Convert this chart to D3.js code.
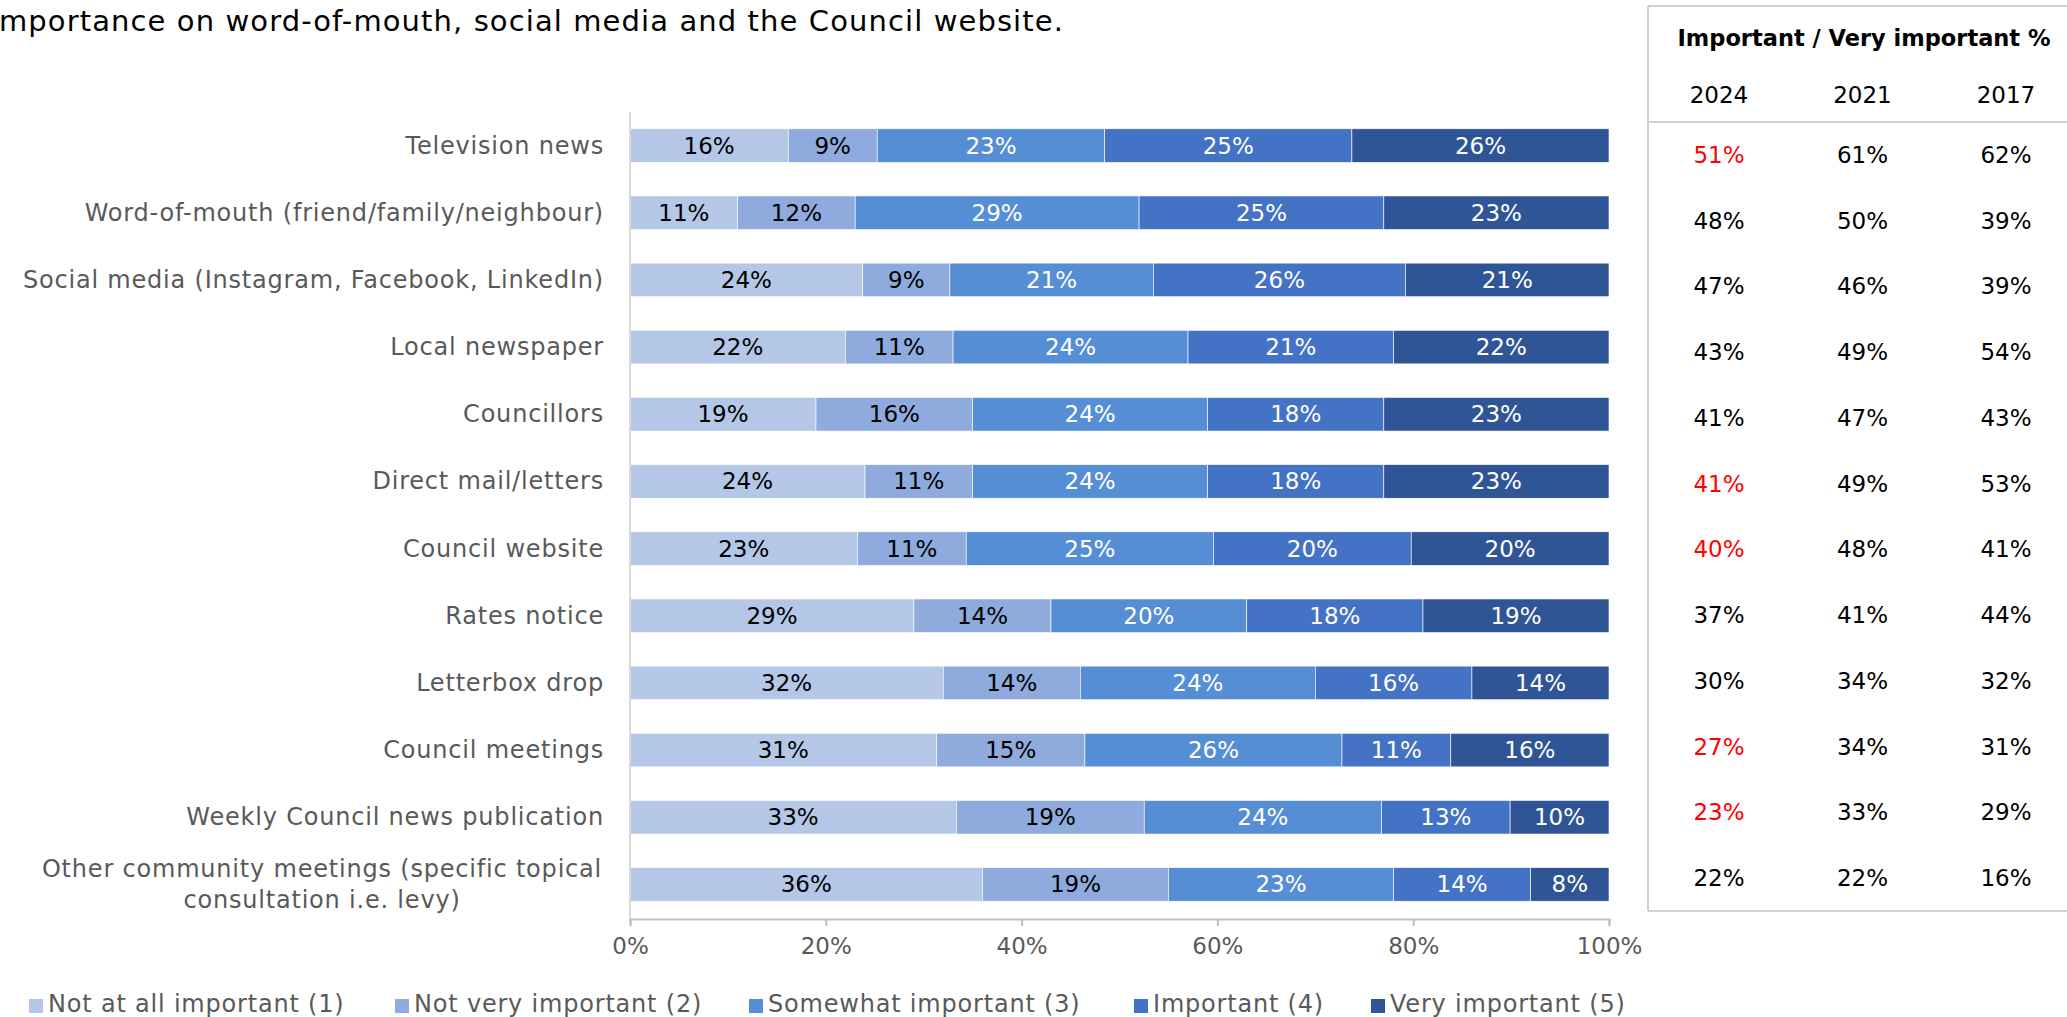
<!DOCTYPE html>
<html>
<head>
<meta charset="utf-8">
<script src="https://cdn.jsdelivr.net/npm/d3@7"></script>
<style>
  html, body { margin: 0; padding: 0; background: #fff; overflow: hidden; }
  svg { display: block; }
  text { font-family: "Century Gothic", "DejaVu Sans", sans-serif; }
</style>
</head>
<body>
<svg id="chart" width="2067" height="1017"></svg>
<script>
// Communication channels, top to bottom
const categories = [
  "Television news",
  "Word-of-mouth (friend/family/neighbour)",
  "Social media (Instagram, Facebook, LinkedIn)",
  "Local newspaper",
  "Councillors",
  "Direct mail/letters",
  "Council website",
  "Rates notice",
  "Letterbox drop",
  "Council meetings",
  "Weekly Council news publication",
  "Other community meetings (specific topical consultation i.e. levy)"
];

const seriesNames = [
  "Not at all important (1)",
  "Not very important (2)",
  "Somewhat important (3)",
  "Important (4)",
  "Very important (5)"
];

// Share of respondents per rating, one array per rating level
const notAtAll   = [16, 11, 24, 22, 19, 24, 23, 29, 32, 31, 33, 36];
const notVery    = [ 9, 12,  9, 11, 16, 11, 11, 14, 14, 15, 19, 19];
const somewhat   = [23, 29, 21, 24, 24, 24, 25, 20, 24, 26, 24, 23];
const important  = [25, 25, 26, 21, 18, 18, 20, 18, 16, 11, 13, 14];
const veryImport = [26, 23, 21, 22, 23, 23, 20, 19, 14, 16, 10,  8];

// Important / Very important % by survey year
const years = ["2024", "2021", "2017"];
const y2024 = [51, 48, 47, 43, 41, 41, 40, 37, 30, 27, 23, 22];
const y2021 = [61, 50, 46, 49, 47, 49, 48, 41, 34, 34, 33, 22];
const y2017 = [62, 39, 39, 54, 43, 53, 41, 44, 32, 31, 29, 16];
// 2024 results flagged as a notable decline
const flagged2024 = [true, false, false, false, false, true, true, false, false, true, true, false];

const xTicks = [0, 0.2, 0.4, 0.6, 0.8, 1.0];

const colors = ["#b4c7e7", "#8faadc", "#558ed5", "#4472c4", "#2f5597"];
const labelColors = ["#000000", "#000000", "#ffffff", "#ffffff", "#ffffff"];

const series = [notAtAll, notVery, somewhat, important, veryImport];
const rows = categories.map((c, i) => {
  const r = { category: c };
  seriesNames.forEach((s, k) => { r[s] = series[k][i]; });
  return r;
});

const svg = d3.select("#chart");
const FONT = 23;        // numbers in bars and table
const LABEL_FONT = 24;  // category and legend labels
const LABEL_SPACING = 0.8;

// Heading sentence (continues from the slide text above)
svg.append("text")
  .attr("x", 1064).attr("y", 21)
  .attr("text-anchor", "end")
  .attr("dominant-baseline", "central")
  .attr("font-size", 29)
  .attr("letter-spacing", 1.1)
  .attr("fill", "#000")
  .text("mportance on word-of-mouth, social media and the Council website.");

// Scales
const x = d3.scaleLinear().domain([0, 1]).range([630, 1609]);
const y = d3.scaleBand().domain(categories).range([112, 918])
  .paddingInner(0.5).paddingOuter(0.25);

// 100% stacked layout: each row normalised by its own total
const stack = d3.stack().keys(seriesNames).offset(d3.stackOffsetExpand);
const stacked = stack(rows);

const gBars = svg.append("g");
stacked.forEach((layer, k) => {
  const g = gBars.append("g");
  g.selectAll("rect").data(layer).join("rect")
    .attr("x", d => x(d[0]))
    .attr("y", d => y(d.data.category))
    .attr("width", d => x(d[1]) - x(d[0]))
    .attr("height", y.bandwidth())
    .attr("fill", colors[k])
    .attr("stroke", "#ffffff")
    .attr("stroke-width", 0.6);
  g.selectAll("text").data(layer).join("text")
    .attr("x", d => (x(d[0]) + x(d[1])) / 2)
    .attr("y", d => y(d.data.category) + y.bandwidth() / 2)
    .attr("text-anchor", "middle")
    .attr("dominant-baseline", "central")
    .attr("font-size", FONT)
    .attr("fill", labelColors[k])
    .text(d => d.data[seriesNames[k]] + "%");
});

// Vertical category axis line
svg.append("line")
  .attr("x1", 630).attr("x2", 630)
  .attr("y1", 112).attr("y2", 919)
  .attr("stroke", "#d9d9d9").attr("stroke-width", 2);

// Horizontal value axis
const xAxis = d3.axisBottom(x).tickValues(xTicks)
  .tickFormat(d3.format(".0%")).tickSize(7).tickPadding(12);
const gx = svg.append("g").attr("transform", "translate(0,919)").call(xAxis);
gx.select(".domain").attr("stroke", "#bfbfbf").attr("stroke-width", 2);
gx.selectAll(".tick line").attr("stroke", "#bfbfbf").attr("stroke-width", 2);
gx.selectAll(".tick text")
  .attr("font-size", FONT).attr("fill", "#595959")
  .attr("font-family", "\"Century Gothic\", \"DejaVu Sans\", sans-serif");

// Category labels (long ones wrapped onto two centred lines)
const wrapped = {
  "Other community meetings (specific topical consultation i.e. levy)":
    ["Other community meetings (specific topical", "consultation i.e. levy)"]
};
categories.forEach(c => {
  const cy = y(c) + y.bandwidth() / 2;
  if (wrapped[c]) {
    const lines = wrapped[c];
    const t = svg.append("text")
      .attr("text-anchor", "middle")
      .attr("font-size", LABEL_FONT)
      .attr("letter-spacing", LABEL_SPACING)
      .attr("fill", "#595959");
    lines.forEach((ln, i) => {
      t.append("tspan")
        .attr("x", 322)
        .attr("y", cy + (i - (lines.length - 1) / 2) * 31)
        .attr("dominant-baseline", "central")
        .text(ln);
    });
  } else {
    svg.append("text")
      .attr("x", 604).attr("y", cy)
      .attr("text-anchor", "end")
      .attr("dominant-baseline", "central")
      .attr("font-size", LABEL_FONT)
      .attr("letter-spacing", LABEL_SPACING)
      .attr("fill", "#595959")
      .text(c);
  }
});

// Summary table on the right
const tableLeft = 1648, tableTop = 6, tableBottom = 911, headerLine = 122;
const tb = svg.append("g");
tb.append("line").attr("x1", tableLeft).attr("x2", 2067).attr("y1", tableTop).attr("y2", tableTop)
  .attr("stroke", "#d0d0d0").attr("stroke-width", 2);
tb.append("line").attr("x1", tableLeft).attr("x2", tableLeft).attr("y1", tableTop).attr("y2", tableBottom)
  .attr("stroke", "#d0d0d0").attr("stroke-width", 2);
tb.append("line").attr("x1", tableLeft).attr("x2", 2067).attr("y1", tableBottom).attr("y2", tableBottom)
  .attr("stroke", "#d0d0d0").attr("stroke-width", 2);
tb.append("line").attr("x1", tableLeft).attr("x2", 2067).attr("y1", headerLine).attr("y2", headerLine)
  .attr("stroke", "#d0d0d0").attr("stroke-width", 2);

tb.append("text")
  .attr("x", 1864).attr("y", 38)
  .attr("text-anchor", "middle").attr("dominant-baseline", "central")
  .attr("font-size", 22.5).attr("font-weight", "bold").attr("fill", "#000")
  .text("Important / Very important %");

const colX = d3.scalePoint().domain(years).range([1719, 2006]);
years.forEach(yr => {
  tb.append("text")
    .attr("x", colX(yr)).attr("y", 95)
    .attr("text-anchor", "middle").attr("dominant-baseline", "central")
    .attr("font-size", FONT).attr("fill", "#000")
    .text(yr);
});

const rowY = d3.scaleBand().domain(categories).range([headerLine, tableBottom]);
const tableCols = [y2024, y2021, y2017];
tableCols.forEach((vals, j) => {
  tb.append("g").selectAll("text").data(vals).join("text")
    .attr("x", colX(years[j]))
    .attr("y", (d, i) => rowY(categories[i]) + rowY.bandwidth() / 2)
    .attr("text-anchor", "middle").attr("dominant-baseline", "central")
    .attr("font-size", FONT)
    .attr("fill", (d, i) => (j === 0 && flagged2024[i]) ? "#ff0000" : "#000000")
    .text(d => d + "%");
});

// Legend along the bottom
const legendX = [29, 395, 749, 1134, 1371];
const lg = svg.append("g");
seriesNames.forEach((s, k) => {
  lg.append("rect")
    .attr("x", legendX[k]).attr("y", 999)
    .attr("width", 14).attr("height", 14)
    .attr("fill", colors[k]);
  lg.append("text")
    .attr("x", legendX[k] + 19).attr("y", 1012)
    .attr("font-size", LABEL_FONT)
    .attr("letter-spacing", LABEL_SPACING)
    .attr("fill", "#595959")
    .text(s);
});
</script>
</body>
</html>
